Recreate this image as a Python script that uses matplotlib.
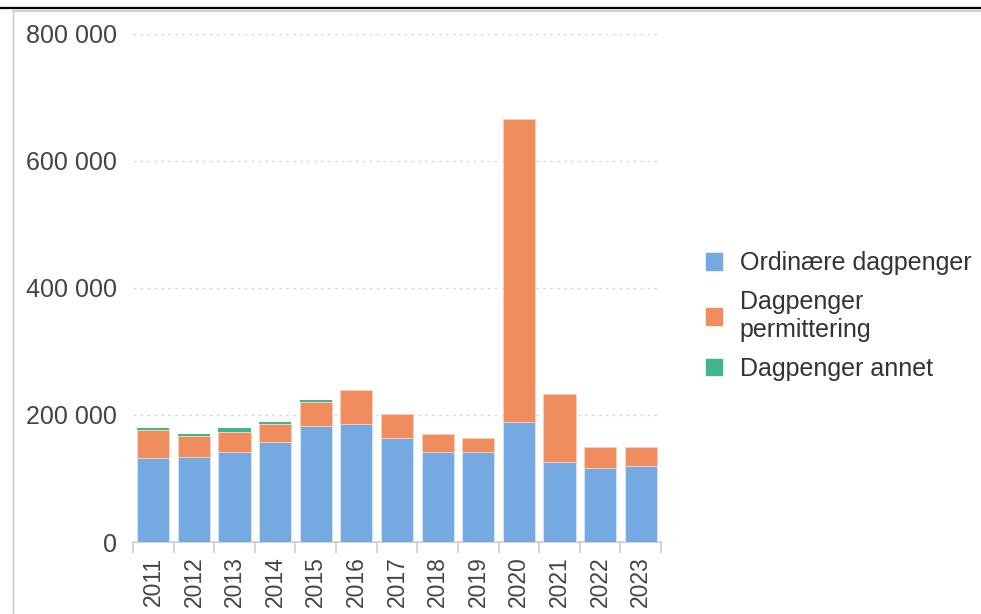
import matplotlib
matplotlib.use("Agg")
import matplotlib.pyplot as plt
from matplotlib.patches import Patch
from matplotlib.lines import Line2D
from matplotlib.ticker import FuncFormatter, FixedLocator
import numpy as np

years = ["2011", "2012", "2013", "2014", "2015", "2016", "2017", "2018", "2019", "2020", "2021", "2022", "2023"]
ordinaere = [132000, 134500, 141000, 157000, 182500, 186000, 163500, 141500, 141500, 189000, 125500, 116000, 119000]
permittering = [44500, 32500, 31500, 28500, 37500, 53000, 37500, 28000, 22000, 476500, 107000, 34000, 31000]
annet = [2500, 3000, 6500, 3000, 3500, 0, 0, 0, 0, 0, 0, 0, 0]

labels = ["Ordinære dagpenger", "Dagpenger\npermittering", "Dagpenger annet"]
colors = ["#74A9E1", "#EF8D5E", "#41B68A"]
yticks = [0, 200000, 400000, 600000, 800000]

plt.rcParams['font.family'] = ['Liberation Sans', 'DejaVu Sans']

fig = plt.figure(figsize=(9.81, 6.14), dpi=100)
ax = fig.add_axes([133/981, 1-542/614, (661-133)/981, (542-34)/614])

x = np.arange(len(years))
w = 0.79
o = np.array(ordinaere); p = np.array(permittering); a = np.array(annet)
ax.bar(x, o, w, color=colors[0], edgecolor="#dbe8f6", linewidth=0.6, zorder=3)
ax.bar(x, p, w, bottom=o, color=colors[1], edgecolor="#f7d2bf", linewidth=0.6, zorder=3)
ax.bar(x, a, w, bottom=o+p, color=colors[2], edgecolor="none", linewidth=0, zorder=3)

ax.set_xlim(-0.5, len(years)-0.5)
ax.set_ylim(0, 800000)
ax.set_yticks(yticks)
ax.yaxis.set_major_formatter(FuncFormatter(lambda v, _: f"{int(v):,}".replace(",", " ")))
ax.tick_params(axis='y', length=0, pad=11.5, labelsize=18, labelcolor="#444444")
for yv in yticks[1:]:
    ax.axhline(yv, color="#d9d9d9", lw=1, ls=(0, (2, 3)), zorder=1)

ax.set_xticks(x)
ax.set_xticklabels(years, rotation=90)
ax.tick_params(axis='x', which='major', length=0, pad=10.5, labelsize=16.5, labelcolor="#444444")
ax.xaxis.set_minor_locator(FixedLocator(np.arange(-0.5, len(years), 1)))
ax.tick_params(axis='x', which='minor', length=8, width=1.2, color="#cccccc", direction='out')

for s in ["top", "right", "left"]:
    ax.spines[s].set_visible(False)
ax.spines["bottom"].set_color("#cccccc")
ax.spines["bottom"].set_linewidth(1.2)

handles = [Patch(facecolor=c, edgecolor=c) for c in colors]
leg = fig.legend(handles, labels, loc="center left", bbox_to_anchor=(706/981, 1-316/614),
                 frameon=False, fontsize=18, handlelength=0.65, handleheight=0.65,
                 handletextpad=0.7, labelspacing=0.6, borderpad=0, borderaxespad=0)
for t in leg.get_texts():
    t.set_color("#333333")

fig.add_artist(Line2D([0, 1], [1-8/614, 1-8/614], color="black", lw=1.6, transform=fig.transFigure))
fig.add_artist(Line2D([13/981, 1], [1-11/614, 1-11/614], color="#c8c8c8", lw=1.2, transform=fig.transFigure))
fig.add_artist(Line2D([13/981, 13/981], [0, 1-11/614], color="#c8c8c8", lw=1.0, transform=fig.transFigure))

fig.savefig("out.png", dpi=100)
